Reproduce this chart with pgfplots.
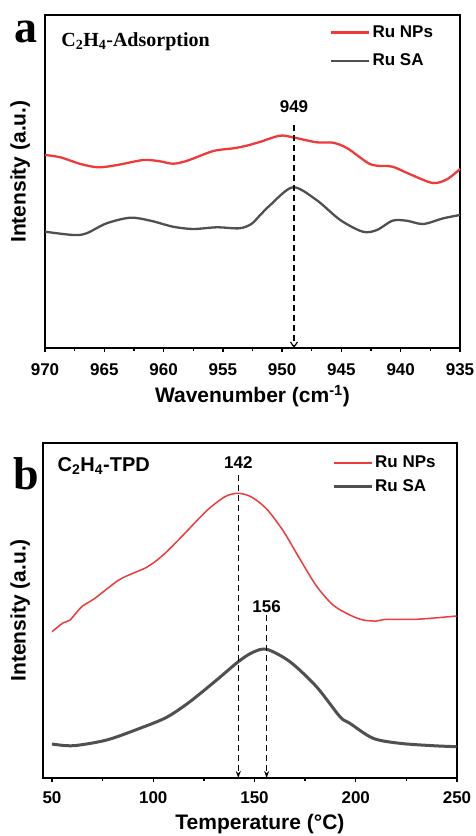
\documentclass[border=0pt]{standalone}
\usepackage{fontspec}
\setmainfont{Liberation Sans}
\newfontfamily\serifb{Liberation Serif}
\usepackage{pgfplots}
\pgfplotsset{compat=1.18}
\usetikzlibrary{arrows.meta}

\definecolor{npred}{RGB}{238,58,58}
\definecolor{sagray}{RGB}{80,80,80}

\pgfplotsset{
  panel/.style={
    scale only axis, anchor=north west, clip=false,
    axis line style={line width=1.8pt},
    ytick=\empty,
    tick align=outside, xtick pos=bottom,
    major tick length=4pt, minor tick length=2.5pt,
    every tick/.style={black, line width=1.4pt},
    minor x tick num=1,
    tick label style={font=\fontsize{17}{19}\selectfont\bfseries},
    /pgf/number format/assume math mode=true,
    label style={font=\fontsize{21}{24}\selectfont\bfseries},
    legend style={draw=none, fill=none, anchor=north west,
      font=\fontsize{17}{19}\selectfont\bfseries,
      inner sep=0pt},
    legend cell align=left,
    legend image code/.code={\draw[##1] (0pt,0pt) -- (38pt,0pt);},
  }
}

\begin{document}
\begin{tikzpicture}
\path[use as bounding box] (0,0) rectangle (475pt,-836pt);

% ---- panel a: C2H4 adsorption (wavenumber axis runs right to left)
\begin{axis}[panel,
  at={(45pt,-15pt)}, width=415pt, height=333pt,
  x dir=reverse,
  xmin=935, xmax=970, ymin=0, ymax=333,
  xtick={935,940,...,970},
  xticklabel style={anchor=north, yshift=-8pt},
  xlabel={Wavenumber (cm\textsuperscript{-1})},
  ylabel={Intensity (a.u.)},
  xlabel style={at={(axis description cs:0.5,-0.145)}, anchor=center},
  ylabel style={at={(axis description cs:-0.060,0.53)}, anchor=center},
  legend style={at={(rel axis cs:0.687,0.974)}, row sep=11pt},
]
\addplot[npred, line width=2.3pt, smooth] coordinates {
  (970.0,193) (968.7,190.7) (967.0,184) (965.5,180.7) (963.9,183)
  (961.7,188) (960.3,186.7) (959.2,184.3) (958.0,187.3) (955.8,197)
  (954.1,199.7) (953.0,202.3) (951.9,206) (950.2,212.3) (949.1,210.7)
  (947.1,205.7) (945.7,205.3) (944.5,199.7) (942.8,185.3) (942.0,182.3)
  (940.7,181.3) (939.2,173.7) (937.3,165) (936.1,168.7) (935.0,179)
};
\addlegendentry{Ru NPs}
\addplot[sagray, line width=2.3pt, smooth] coordinates {
  (970.0,116.3) (967.6,113) (966.5,114.7) (964.8,124.7) (962.8,130.3)
  (961.1,127.3) (959.2,121.3) (957.5,119) (955.5,120.7) (953.6,119.7)
  (952.6,124) (951.9,132.3) (951.0,143) (949.1,160.7) (947.1,148)
  (945.1,128) (943.2,116.3) (942.0,118) (940.7,127.3) (939.5,127.3)
  (938.1,124) (936.4,129.7) (935.0,133)
};
\addlegendentry{Ru SA}
\addplot[black, line width=1.2pt, dash pattern=on 6pt off 4pt,
  -{Straight Barb[length=5pt,width=7pt]}, forget plot]
  coordinates {(949,223) (949,0)};
\node[font=\fontsize{17}{19}\selectfont\bfseries] at (axis cs:949,241) {949};
\node[anchor=west, font=\serifb\bfseries\fontsize{20}{22}\selectfont]
  at (rel axis cs:0.031,0.919) {C\textsubscript{2}H\textsubscript{4}-Adsorption};
\end{axis}

% ---- panel b: C2H4 TPD
\begin{axis}[panel,
  at={(43pt,-443pt)}, width=414pt, height=335pt,
  xmin=45.56, xmax=250, ymin=0, ymax=335,
  xtick={50,100,...,250},
  xticklabel shift=6pt,
  xlabel={Temperature (°C)},
  ylabel={Intensity (a.u.)},
  xlabel style={at={(axis description cs:0.524,-0.136)}, anchor=center},
  ylabel style={at={(axis description cs:-0.055,0.501)}, anchor=center},
  legend style={at={(rel axis cs:0.698,0.967)}, row sep=6pt},
]
\addplot[npred, line width=1.5pt, smooth] coordinates {
  (50,146.3) (55.6,155.3) (58.9,158) (64.7,171.3) (71.2,179.7)
  (83.6,198.7) (96.7,210.7) (104.9,223) (114.8,243) (126.4,267.3)
  (135.4,281.3) (142,284.7) (148.5,281) (156,269) (164.2,247)
  (172.4,219) (180.6,192) (188.8,173) (197.1,163) (203.7,158)
  (210.3,157) (215.2,158.7) (230,158.7) (249.8,162)
};
\addlegendentry{Ru NPs}
\addplot[sagray, line width=3pt, smooth] coordinates {
  (50,34) (60.5,32.3) (77,38) (93.4,49.7) (106.6,60.7) (118.1,76.3)
  (131.3,98) (142,116.3) (149,125.5) (156,128.7) (167.5,116.3)
  (180.6,91.3) (192.2,61.3) (197.1,54.7) (208.6,39.7) (221.8,34.7)
  (238.2,32.3) (249.8,31.3)
};
\addlegendentry{Ru SA}
\addplot[black, line width=1.2pt, dash pattern=on 6pt off 4pt,
  -{Stealth[length=7pt,width=5pt]}, forget plot]
  coordinates {(142,303) (142,0)};
\addplot[black, line width=1.2pt, dash pattern=on 6pt off 4pt,
  -{Stealth[length=7pt,width=5pt]}, forget plot]
  coordinates {(156,163) (156,0)};
\node[font=\fontsize{17}{19}\selectfont\bfseries] at (axis cs:142,315) {142};
\node[font=\fontsize{17}{19}\selectfont\bfseries] at (axis cs:156,171) {156};
\node[anchor=west, font=\fontsize{20}{22}\selectfont\bfseries]
  at (rel axis cs:0.027,0.931) {C\textsubscript{2}H\textsubscript{4}-TPD};
\end{axis}

\node[font=\serifb\bfseries\fontsize{46}{46}\selectfont] at (26pt,-32pt) {a};
\node[font=\serifb\bfseries\fontsize{46}{46}\selectfont] at (26pt,-474pt) {b};
\end{tikzpicture}
\end{document}
